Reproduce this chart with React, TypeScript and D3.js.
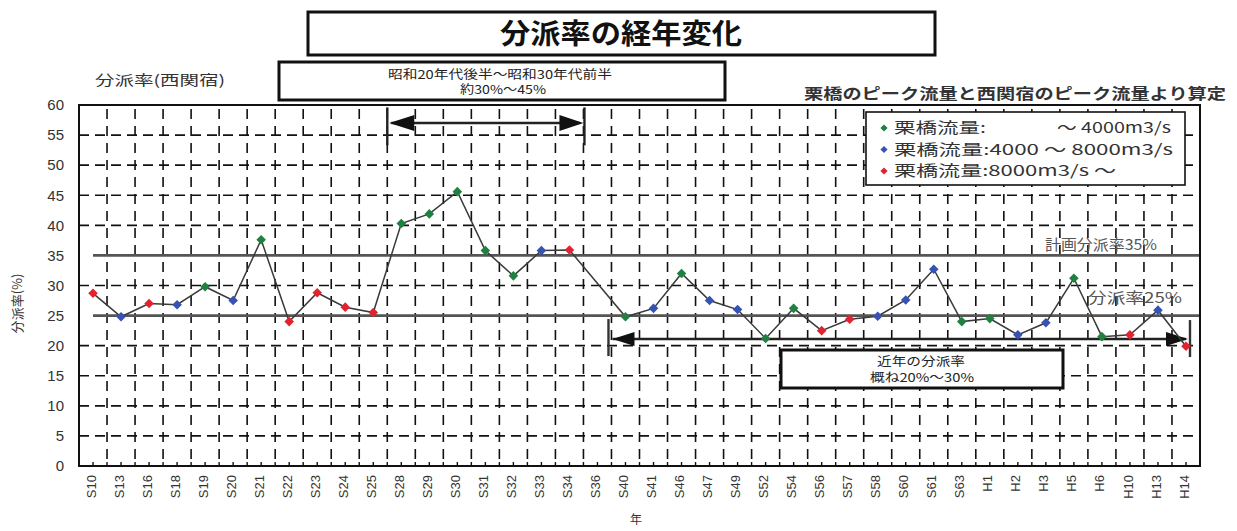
import React from "react";
import * as d3 from "d3";

// Survey years (Showa "S", Heisei "H")
const years = [
  "S10", "S13", "S16", "S18", "S19", "S20", "S21", "S22", "S23", "S24",
  "S25", "S28", "S29", "S30", "S31", "S32", "S33", "S34", "S36", "S40",
  "S41", "S46", "S47", "S49", "S52", "S54", "S56", "S57", "S58", "S60",
  "S61", "S63", "H1", "H2", "H3", "H5", "H6", "H10", "H13", "H14",
];

// Diversion ratio at Nishisekiyado (%), null where no value was computed
const ratios: (number | null)[] = [
  28.7, 24.8, 27.0, 26.8, 29.8, 27.5, 37.6, 24.0, 28.8, 26.4,
  25.5, 40.3, 41.9, 45.6, 35.8, 31.6, 35.8, 35.9, null, 24.8,
  26.2, 32.0, 27.5, 26.0, 21.2, 26.2, 22.5, 24.4, 24.9, 27.6,
  32.7, 24.0, 24.5, 21.8, 23.8, 31.2, 21.5, 21.8, 25.9, 19.9,
];

// Peak discharge class at Kurihashi: L = ~4000, M = 4000~8000, H = 8000~ m3/s
const flowClass = [
  "H", "M", "H", "M", "L", "M", "L", "H", "H", "H",
  "H", "L", "L", "L", "L", "L", "M", "H", "", "L",
  "M", "L", "M", "M", "L", "L", "H", "H", "M", "M",
  "M", "L", "L", "M", "M", "L", "L", "H", "M", "H",
];

const classKeys = ["L", "M", "H"];
const classColors = ["#1f8040", "#3652b4", "#e2232f"];
const legendLabels = ["栗橋流量:", "栗橋流量:4000 ～ 8000m3/s", "栗橋流量:8000m3/s ～"];
const legendLabelWidths = [92, 279, 222];
const legendTail = ["～ 4000m3/s", "", ""];

const yTicks = d3.range(0, 61, 5);
const refValues = [35, 25];
const refLabels = ["計画分派率35%", "分派率25%"];

// Highlighted periods (band start keys) and the level of their arrows
const earlyPeriod = ["S28", "S36"];
const earlyArrowLevel = 57;
const recentPeriod = ["S40", "H14"];
const recentArrowLevel = 21.1;

const JP = "'Noto Sans CJK JP', 'Noto Sans', sans-serif";
const LAT = "'Liberation Sans', Arial, sans-serif";

export default function App() {
  const W = 1237;
  const H = 531;
  const left = 79, right = 1200, top = 105, bottom = 466;

  const x = d3.scaleBand<string>().domain(years).range([left, right]).padding(0);
  const y = d3.scaleLinear().domain([0, 60]).range([bottom, top]);
  const bw = x.bandwidth();
  const cx = (k: string) => (x(k) as number) + bw / 2;

  const pts = years
    .map((yr, i) => ({ yr, v: ratios[i], c: flowClass[i] }))
    .filter((d) => d.v !== null) as { yr: string; v: number; c: string }[];

  const line = d3
    .line<{ yr: string; v: number }>()
    .x((d) => cx(d.yr))
    .y((d) => y(d.v));

  const marker = d3.symbol(d3.symbolSquare, 46)() as string;
  const legendMarker = d3.symbol(d3.symbolSquare, 26)() as string;
  const color = (c: string) => classColors[classKeys.indexOf(c)];

  const boundaries = d3.range(1, years.length).map((i) => left + i * bw);
  const centers = years.map((k) => cx(k));

  // early period arrow
  const ex0 = x(earlyPeriod[0]) as number;
  const ex1 = x(earlyPeriod[1]) as number;
  const ey = y(earlyArrowLevel);
  // recent period arrow
  const rx0 = (x(recentPeriod[0]) as number) - 3;
  const rx1 = cx(recentPeriod[1]) + 4;
  const ry = y(recentArrowLevel);

  const headL = (tx: number, ty: number, len: number, h: number) =>
    `M${tx},${ty}L${tx + len},${ty - h}L${tx + len},${ty + h}Z`;
  const headR = (tx: number, ty: number, len: number, h: number) =>
    `M${tx},${ty}L${tx - len},${ty - h}L${tx - len},${ty + h}Z`;

  return (
    <svg
      width={W}
      height={H}
      viewBox={`0 0 ${W} ${H}`}
      style={{ position: "absolute", left: 0, top: 0, background: "#fff" }}
    >
      <rect x={0} y={0} width={W} height={H} fill="#fff" />

      {/* horizontal dashed grid */}
      {yTicks
        .filter((t) => t !== 0 && t !== 60 && !refValues.includes(t))
        .map((t) => (
          <line
            key={"h" + t}
            x1={left}
            x2={right}
            y1={y(t)}
            y2={y(t)}
            stroke="#111"
            strokeWidth={1.6}
            strokeDasharray="10,6"
          />
        ))}

      {/* vertical dashed grid at band boundaries */}
      {boundaries.map((bx, i) => (
        <line
          key={"v" + i}
          x1={bx}
          x2={bx}
          y1={top}
          y2={bottom}
          stroke="#111"
          strokeWidth={1.6}
          strokeDasharray="10,7"
          strokeDashoffset={-4}
        />
      ))}

      {/* small ticks along the base */}
      {[...boundaries, ...centers].map((tx, i) => (
        <line key={"bt" + i} x1={tx} x2={tx} y1={bottom} y2={bottom - 4} stroke="#111" strokeWidth={1.4} />
      ))}

      {/* reference ratios */}
      {refValues.map((v) => (
        <line
          key={"r" + v}
          x1={cx(years[0])}
          x2={right}
          y1={y(v)}
          y2={y(v)}
          stroke="#555"
          strokeWidth={2.6}
        />
      ))}

      {/* recent period arrow */}
      <line x1={rx0 + 4} x2={rx1 - 4} y1={ry} y2={ry} stroke="#222" strokeWidth={2.4} />
      <line x1={rx0} x2={rx0} y1={ry - 20} y2={ry + 17} stroke="#333" strokeWidth={2.4} />
      <line x1={rx1} x2={rx1} y1={ry - 19} y2={ry + 18} stroke="#333" strokeWidth={2.4} />
      <path d={headL(rx0 + 4, ry, 22, 7)} fill="#111" />
      <path d={headR(rx1 - 2, ry, 22, 7)} fill="#111" />

      {/* series line */}
      <path d={line(pts) as string} fill="none" stroke="#3a3a3a" strokeWidth={1.5} />
      {pts.map((d) => (
        <path
          key={"p" + d.yr}
          d={marker}
          transform={`translate(${cx(d.yr)},${y(d.v)}) rotate(45)`}
          fill={color(d.c)}
        />
      ))}

      {/* plot frame */}
      <rect x={left} y={top} width={right - left} height={bottom - top} fill="none" stroke="#111" strokeWidth={2} />

      {/* early period arrow */}
      <line x1={ex0 + 4} x2={ex1 - 4} y1={ey} y2={ey} stroke="#222" strokeWidth={2.4} />
      <line x1={ex0} x2={ex0} y1={y(59.6)} y2={y(53.3)} stroke="#222" strokeWidth={2.4} />
      <line x1={ex1 + 1} x2={ex1 + 1} y1={y(59.6)} y2={y(53.3)} stroke="#222" strokeWidth={2.4} />
      <path d={headL(ex0 + 2, ey, 25, 8)} fill="#111" />
      <path d={headR(ex1, ey, 24, 8)} fill="#111" />

      {/* reference labels */}
      <text x={1045} y={250} fontFamily={JP} fontSize={15} fill="#555" textLength={112} lengthAdjust="spacingAndGlyphs">
        {refLabels[0]}
      </text>
      <text x={1088} y={303} fontFamily={JP} fontSize={15} fill="#555" textLength={94} lengthAdjust="spacingAndGlyphs">
        {refLabels[1]}
      </text>

      {/* y tick labels */}
      {yTicks.map((t) => (
        <text
          key={"yt" + t}
          x={64}
          y={y(t)}
          dy="0.35em"
          textAnchor="end"
          fontFamily={LAT}
          fontSize={15}
          fill="#333"
        >
          {t}
        </text>
      ))}

      {/* x tick labels */}
      {years.map((k) => (
        <text
          key={"xt" + k}
          transform={`translate(${cx(k) - 2},${bottom + 9}) rotate(-90)`}
          textAnchor="end"
          dy="0.35em"
          fontFamily={LAT}
          fontSize={13}
          fill="#333"
        >
          {k}
        </text>
      ))}

      {/* axis titles */}
      <text
        transform={`translate(17,${(top + bottom) / 2 + 18}) rotate(-90)`}
        textAnchor="middle"
        dy="0.35em"
        fontFamily={JP}
        fontSize={13}
        fill="#333"
      >
        分派率(%)
      </text>
      <text x={636} y={524} textAnchor="middle" fontFamily={JP} fontSize={12} fill="#333">
        年
      </text>
      <text x={95} y={85} fontFamily={JP} fontSize={14} fill="#333" textLength={130} lengthAdjust="spacingAndGlyphs">
        分派率(西関宿)
      </text>

      {/* title */}
      <rect x={308} y={12} width={627} height={43} fill="#fff" stroke="#111" strokeWidth={3} />
      <text x={621} y={44} textAnchor="middle" fontFamily={JP} fontWeight="bold" fontSize={28} fill="#111" textLength={242} lengthAdjust="spacingAndGlyphs">
        分派率の経年変化
      </text>

      {/* early period note */}
      <rect x={279} y={62} width={446} height={38} fill="#fff" stroke="#111" strokeWidth={3} />
      <text x={500} y={79} textAnchor="middle" fontFamily={JP} fontSize={12} fill="#222" textLength={224} lengthAdjust="spacingAndGlyphs">
        昭和20年代後半～昭和30年代前半
      </text>
      <text x={503} y={94} textAnchor="middle" fontFamily={JP} fontSize={12} fill="#222" textLength={86} lengthAdjust="spacingAndGlyphs">
        約30%～45%
      </text>

      {/* source note */}
      <text x={1226} y={99} textAnchor="end" fontFamily={JP} fontWeight="bold" fontSize={15} fill="#333" textLength={422} lengthAdjust="spacingAndGlyphs">
        栗橋のピーク流量と西関宿のピーク流量より算定
      </text>

      {/* legend */}
      <rect x={866} y={112} width={319} height={73} fill="#fff" stroke="#111" strokeWidth={1.6} />
      {classKeys.map((c, i) => (
        <g key={"lg" + c} transform={`translate(0,${128 + i * 21.5})`}>
          <path d={legendMarker} transform="translate(884,0) rotate(45)" fill={classColors[i]} />
          <text
            x={894}
            y={0}
            dy="0.35em"
            fontFamily={JP}
            fontSize={15}
            fill="#333"
            textLength={legendLabelWidths[i]}
            lengthAdjust="spacingAndGlyphs"
          >
            {legendLabels[i]}
          </text>
          {legendTail[i] && (
            <text x={1057} y={0} dy="0.35em" fontFamily={JP} fontSize={15} fill="#333" textLength={114} lengthAdjust="spacingAndGlyphs">
              {legendTail[i]}
            </text>
          )}
        </g>
      ))}

      {/* recent period note */}
      <rect x={781} y={350} width={282} height={38} fill="#fff" stroke="#111" strokeWidth={3} />
      <text x={921} y={366} textAnchor="middle" fontFamily={JP} fontSize={12} fill="#222" textLength={88} lengthAdjust="spacingAndGlyphs">
        近年の分派率
      </text>
      <text x={922} y={382} textAnchor="middle" fontFamily={JP} fontSize={12} fill="#222" textLength={104} lengthAdjust="spacingAndGlyphs">
        概ね20%～30%
      </text>
    </svg>
  );
}
